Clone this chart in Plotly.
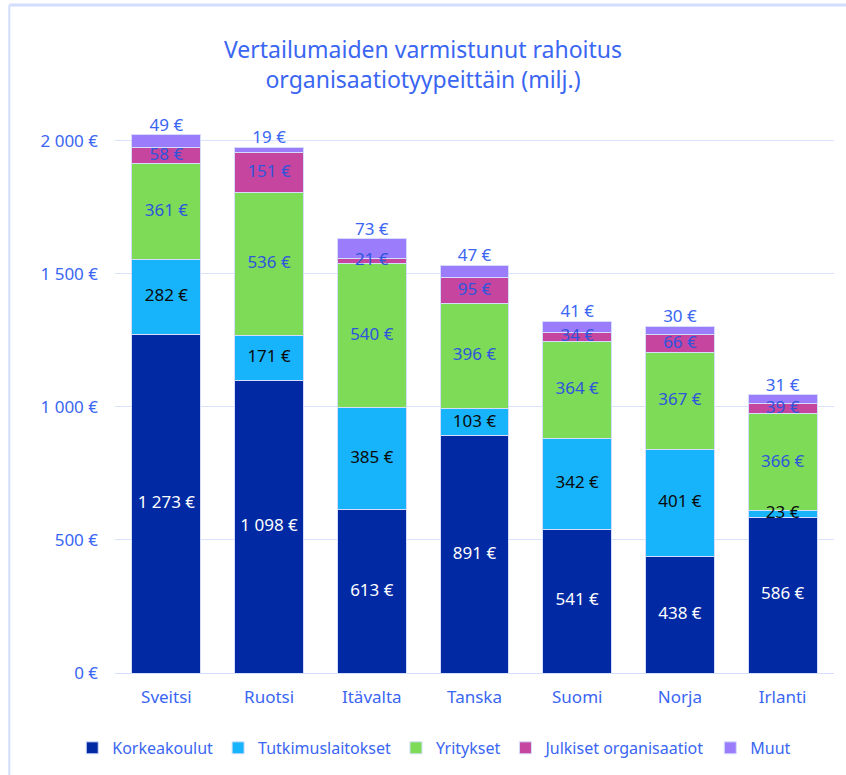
import plotly.graph_objects as go

countries = ["Sveitsi", "Ruotsi", "Itävalta", "Tanska", "Suomi", "Norja", "Irlanti"]
korkeakoulut = [1273, 1098, 613, 891, 541, 438, 586]
tutkimuslaitokset = [282, 171, 385, 103, 342, 401, 23]
yritykset = [361, 536, 540, 396, 364, 367, 366]
julkiset = [58, 151, 21, 95, 34, 66, 39]
muut = [49, 19, 73, 47, 41, 30, 31]
y_ticks = [0, 500, 1000, 1500, 2000]
y_ticktext = ["0 €", "500 €", "1 000 €", "1 500 €", "2 000 €"]

series = [
    ("Korkeakoulut", korkeakoulut, "#0029a3", "#ffffff"),
    ("Tutkimuslaitokset", tutkimuslaitokset, "#18b4fb", "#0a0a0a"),
    ("Yritykset", yritykset, "#7ddb58", "#2f55dc"),
    ("Julkiset organisaatiot", julkiset, "#c6459f", "#2f55dc"),
    ("Muut", muut, "#9b7cfb", "#3a66f2"),
]

FONT = "Noto Sans, Roboto, sans-serif"
BLUE = "#3a66f2"

def fmt(v):
    return f"{v:,}".replace(",", " ") + " €"

fig = go.Figure()
for name, vals, color, tcolor in series:
    fig.add_trace(go.Bar(
        name=name, x=countries, y=vals,
        marker=dict(color=color, line=dict(color="#d4defc", width=1)),
        hoverinfo="x+y+name",
    ))

# labels on top of all bars
base = [0] * len(countries)
for i, (name, vals, color, tcolor) in enumerate(series):
    last = i == len(series) - 1
    if last:
        ys = [b + v for b, v in zip(base, vals)]
        pos = "top center"
    else:
        ys = [b + v / 2 for b, v in zip(base, vals)]
        pos = "middle center"
    fig.add_trace(go.Scatter(
        x=countries, y=ys, mode="text",
        text=[fmt(v) for v in vals],
        textposition=pos,
        textfont=dict(color=tcolor, size=17, family=FONT),
        showlegend=False, hoverinfo="skip", cliponaxis=False,
    ))
    base = [b + v for b, v in zip(base, vals)]

fig.update_layout(
    barmode="stack",
    bargap=0.33,
    width=846, height=775,
    paper_bgcolor="white", plot_bgcolor="white",
    font=dict(family=FONT, color=BLUE, size=17),
    title=dict(
        text="Vertailumaiden varmistunut rahoitus<br>organisaatiotyypeittäin (milj.)",
        x=0.5, xanchor="center", y=0.925, yanchor="middle",
        font=dict(size=23, color=BLUE, family=FONT),
    ),
    margin=dict(l=115, r=12, t=101, b=102, autoexpand=False),
    showlegend=True,
    legend=dict(
        orientation="h", x=0.444, xanchor="center", y=-0.131, yanchor="middle",
        font=dict(size=16, color=BLUE, family=FONT),
        traceorder="normal", itemwidth=30,
    ),
    xaxis=dict(
        showline=True, linecolor="#d2defb", linewidth=1,
        tickfont=dict(size=17, color=BLUE, family=FONT),
        ticks="", automargin=False, ticklabelstandoff=9,
    ),
    yaxis=dict(
        range=[0, 2150],
        tickvals=y_ticks, ticktext=y_ticktext,
        showgrid=True, gridcolor="#d8e2fb", gridwidth=1,
        zeroline=False,
        tickfont=dict(size=17, color=BLUE, family=FONT),
        ticklabelstandoff=16, automargin=False,
    ),
    shapes=[
        dict(type="line", xref="paper", yref="paper",
             x0=-0.147, x1=1.02, y0=1.168, y1=1.168,
             line=dict(color="#d2defb", width=3)),
        dict(type="line", xref="paper", yref="paper",
             x0=-0.147, x1=-0.147, y0=1.168, y1=-0.2,
             line=dict(color="#d2defb", width=2)),
    ],
)

fig.write_html(
    "out.html",
    config={"displayModeBar": False},
    post_script="document.body.style.margin='0';document.body.style.padding='0';",
)
